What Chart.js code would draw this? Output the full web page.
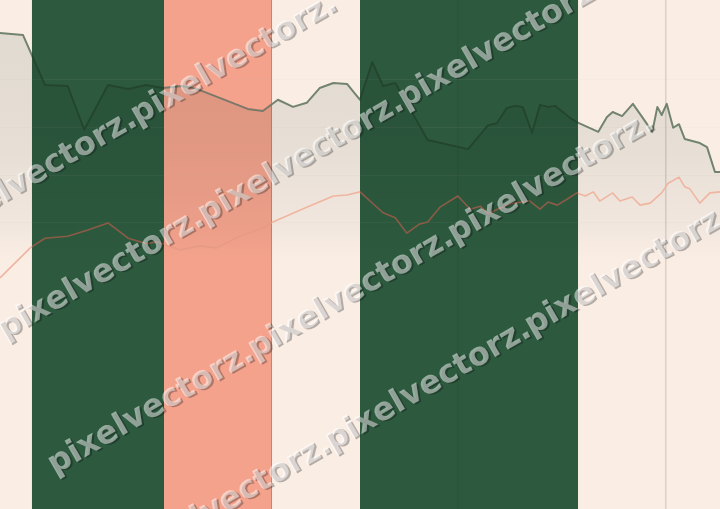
<!DOCTYPE html>
<html>
<head>
<meta charset="utf-8">
<script src="https://cdn.jsdelivr.net/npm/chart.js@4/dist/chart.umd.min.js"></script>
<style>
    html, body { margin: 0; padding: 0; background: #faede4; }
    #wrap { width: 720px; height: 509px; position: relative; }
</style>
</head>
<body>
<div id="wrap"><canvas id="chart"></canvas></div>
<script>
// series (x: 0-100 along the period, y: 0-100 index)
const upperX = [0, 3.2, 6.25, 9.4, 11.7, 15.0, 17.8, 20.3, 22.6, 25.3, 27.4, 34.4, 36.5, 38.6, 40.7,
    42.6, 44.4, 46.3, 48.2, 50.0, 51.7, 53.2, 54.9, 59.4, 65.0, 67.8, 69.0, 70.4, 71.5, 72.6,
    73.9, 75.0, 76.1, 77.1, 79.2, 80.1, 83.1, 84.3, 85.1, 86.4, 87.9, 89.2, 90.6, 91.3, 91.9,
    92.6, 93.5, 94.3, 95.1, 97.2, 98.2, 99.3, 100];
const upperY = [93.5, 93.1, 83.3, 83.1, 74.5, 83.3, 82.5, 83.3, 82.7, 83.1, 82.5, 78.6, 78.2, 80.4, 79.0,
    79.8, 82.7, 83.7, 83.5, 80.4, 87.8, 83.1, 83.7, 72.5, 70.7, 75.4, 75.8, 78.8, 79.2, 79.0,
    73.9, 79.4, 79.0, 79.2, 76.8, 76.0, 74.1, 77.0, 78.0, 77.2, 79.6, 77.0, 74.1, 79.0, 77.4,
    79.6, 74.9, 75.6, 72.7, 71.9, 71.1, 66.2, 66.2];

const lowerX = [0, 4.2, 6.25, 9.4, 12.2, 15.0, 17.8, 20.4, 21.8, 25.0, 27.8, 30.1, 33.3, 36.5, 37.9,
    42.6, 46.3, 48.2, 50.0, 53.2, 54.9, 56.5, 58.3, 59.4, 61.1, 63.6, 65.3, 66.7, 67.8, 69.4,
    71.3, 73.6, 75.0, 76.1, 77.4, 78.8, 80.1, 81.3, 82.4, 83.3, 85.1, 86.1, 87.8, 88.9, 90.3,
    91.9, 92.8, 94.3, 95.1, 95.8, 97.2, 98.6, 100];
const lowerY = [45.4, 51.3, 53.2, 53.6, 54.8, 56.2, 53.2, 52.1, 52.5, 50.9, 51.7, 51.3, 53.6, 55.2, 56.4,
    59.3, 61.5, 61.7, 62.3, 58.2, 57.2, 54.2, 56.0, 56.4, 59.3, 61.5, 58.9, 59.5, 58.0, 59.1,
    60.1, 60.5, 58.9, 60.3, 59.7, 60.9, 62.1, 61.5, 62.3, 60.5, 62.1, 60.5, 61.3, 59.7, 60.1,
    62.1, 64.0, 65.2, 63.3, 62.9, 60.1, 62.1, 62.3];

// shaded periods
const bandFrom = [4.44, 22.78, 50.0];
const bandTo = [22.78, 37.78, 80.28];
const bandKind = ['green', 'salmon', 'green'];

// grid positions
const gridX = [63.6, 92.4];
const gridY = [56.2, 65.6, 75.0, 84.3];

const watermark = 'pixelvectorz.';

const palette = {
    bg: '#faede4',
    band: { green: '#2d5a3f', salmon: '#f4a28c' },
    upper: { base: '#72836f', green: '#23452f', salmon: '#7b7869' },
    lower: { base: '#f0b5a0', green: '#8a5b45', salmon: '#e79a85' }
};

function bandGradient(chart, colors) {
    const area = chart.chartArea;
    if (!area) return colors.base;
    const x = chart.scales.x;
    const w = area.right - area.left;
    const g = chart.ctx.createLinearGradient(area.left, 0, area.right, 0);
    const off = v => Math.min(1, Math.max(0, (x.getPixelForValue(v) - area.left) / w));
    g.addColorStop(0, colors.base);
    bandFrom.forEach((from, i) => {
        const c = colors[bandKind[i]];
        g.addColorStop(off(from), colors.base);
        g.addColorStop(off(from), c);
        g.addColorStop(off(bandTo[i]), c);
        g.addColorStop(off(bandTo[i]), colors.base);
    });
    g.addColorStop(1, colors.base);
    return g;
}

function shadeGradient(ctx) {
    const chart = ctx.chart;
    if (!chart.chartArea) return 'rgba(0,0,0,0)';
    const y = chart.scales.y;
    const g = chart.ctx.createLinearGradient(0, y.getPixelForValue(95), 0, y.getPixelForValue(49));
    g.addColorStop(0, 'rgb(229,234,232)');
    g.addColorStop(0.55, 'rgb(236,240,239)');
    g.addColorStop(0.85, 'rgb(246,248,248)');
    g.addColorStop(1, 'rgb(255,255,255)');
    return g;
}

const backdrop = {
    id: 'backdrop',
    beforeDraw(chart) {
        const { ctx, width, height, chartArea: area, scales: { x } } = chart;
        ctx.save();
        ctx.fillStyle = palette.bg;
        ctx.fillRect(0, 0, width, height);
        bandFrom.forEach((from, i) => {
            const x0 = x.getPixelForValue(from);
            const x1 = x.getPixelForValue(bandTo[i]);
            ctx.fillStyle = palette.band[bandKind[i]];
            ctx.fillRect(x0, area.top, x1 - x0, area.bottom - area.top);
            if (bandKind[i] === 'salmon') {
                ctx.fillStyle = 'rgba(90,85,60,0.35)';
                ctx.fillRect(x1 - 1, area.top, 1, area.bottom - area.top);
            }
        });
        ctx.restore();
    },
    // the shade under the upper line darkens whatever is behind it
    beforeDatasetsDraw(chart) {
        chart.ctx.save();
        chart.ctx.globalCompositeOperation = 'multiply';
    },
    afterDatasetDraw(chart, args) {
        if (args.index === 0) chart.ctx.restore();
    },
    afterDraw(chart) {
        const { ctx } = chart;
        const ang = -30 * Math.PI / 180;
        const step = 231;
        const dx = step * Math.cos(ang), dy = step * Math.sin(ang);
        // first "p" of each row and how many copies follow along it
        const rows = [[-57, 228, 2], [10, 327, 3], [60, 462, 3], [137, 554, 3]];
        ctx.save();
        ctx.font = 'bold 32px "DejaVu Sans"';
        ctx.textBaseline = 'middle';
        rows.forEach(([px, py, n]) => {
            const sx = px - 11 * Math.cos(ang), sy = py - 11 * Math.sin(ang);
            for (let k = 0; k < n; k++) {
                ctx.save();
                ctx.translate(sx + k * dx, sy + k * dy);
                ctx.rotate(ang);
                ctx.fillStyle = 'rgba(0,0,0,0.28)';
                ctx.fillText(watermark, 1.5, 2);
                ctx.fillStyle = 'rgba(255,255,255,0.5)';
                ctx.fillText(watermark, 0, 0);
                ctx.restore();
            }
        });
        ctx.restore();
    }
};

const upperPts = upperX.map((x, i) => ({ x, y: upperY[i] }));
const lowerPts = lowerX.map((x, i) => ({ x, y: lowerY[i] }));

new Chart(document.getElementById('chart'), {
    type: 'line',
    data: {
        datasets: [
            {
                label: 'shade',
                data: upperPts,
                order: 10,
                borderWidth: 0,
                pointRadius: 0,
                fill: 'origin',
                backgroundColor: shadeGradient
            },
            {
                label: 'upper',
                data: upperPts,
                order: 1,
                borderWidth: 2,
                pointRadius: 0,
                fill: false,
                borderJoinStyle: 'round',
                borderColor: c => bandGradient(c.chart, palette.upper)
            },
            {
                label: 'lower',
                data: lowerPts,
                order: 2,
                borderWidth: 1.6,
                pointRadius: 0,
                fill: false,
                borderJoinStyle: 'round',
                borderColor: c => bandGradient(c.chart, palette.lower)
            }
        ]
    },
    options: {
        responsive: true,
        maintainAspectRatio: false,
        animation: false,
        layout: { padding: 0 },
        plugins: { legend: { display: false }, tooltip: { enabled: false } },
        scales: {
            x: {
                type: 'linear', min: 0, max: 100,
                ticks: { display: false },
                border: { display: false },
                grid: { drawTicks: false, color: 'rgba(60,40,30,0.15)', lineWidth: 1.5 },
                afterBuildTicks: axis => { axis.ticks = gridX.map(v => ({ value: v })); }
            },
            y: {
                min: 0, max: 100,
                ticks: { display: false },
                border: { display: false },
                grid: { drawTicks: false, color: 'rgba(200,188,176,0.07)', lineWidth: 1 },
                afterBuildTicks: axis => { axis.ticks = gridY.map(v => ({ value: v })); }
            }
        }
    },
    plugins: [backdrop]
});
</script>
</body>
</html>
